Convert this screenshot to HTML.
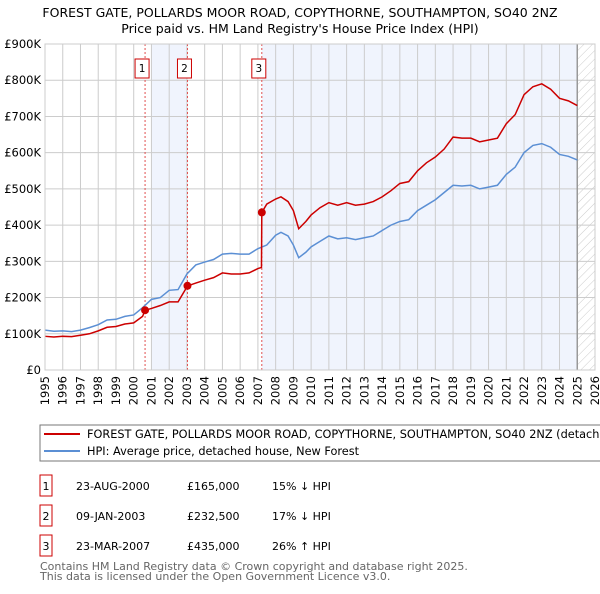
<!DOCTYPE html>
<html><head><meta charset="utf-8"><style>
body{margin:0;background:#fff;width:600px;height:590px;overflow:hidden;font-family:"DejaVu Sans","Liberation Sans",sans-serif}
text{font-family:"DejaVu Sans","Liberation Sans",sans-serif}
</style></head><body>
<svg id="c" width="600" height="590" xmlns="http://www.w3.org/2000/svg">
<defs><pattern id="hatch" width="6" height="6" patternUnits="userSpaceOnUse" patternTransform="rotate(45)"><line x1="0" y1="0" x2="0" y2="6" stroke="#ccc" stroke-width="1"/></pattern></defs>
<text x="300" y="17" text-anchor="middle" font-size="12.5" fill="#000">FOREST GATE, POLLARDS MOOR ROAD, COPYTHORNE, SOUTHAMPTON, SO40 2NZ</text>
<text x="300" y="33" text-anchor="middle" font-size="12.5" fill="#000">Price paid vs. HM Land Registry's House Price Index (HPI)</text>
<g id="bg"></g><g id="grid"></g><g id="series"></g><g id="axes"></g>
<rect x="40" y="425" width="570" height="36" fill="#fff" stroke="#777"/>
<line x1="44" y1="434" x2="80" y2="434" stroke="#cc0000" stroke-width="2"/>
<text x="87" y="438" font-size="11.3">FOREST GATE, POLLARDS MOOR ROAD, COPYTHORNE, SOUTHAMPTON, SO40 2NZ (detached house)</text>
<line x1="44" y1="451" x2="80" y2="451" stroke="#5b8fd4" stroke-width="2"/>
<text x="87" y="455" font-size="11.3">HPI: Average price, detached house, New Forest</text>
<g id="table" font-size="11"></g>
<text x="40" y="570" font-size="11" fill="#666">Contains HM Land Registry data © Crown copyright and database right 2025.</text>
<text x="40" y="580" font-size="11" fill="#666">This data is licensed under the Open Government Licence v3.0.</text>
</svg>
<script>
const hpiYears=[1995,1995.5,1996,1996.5,1997,1997.5,1998,1998.5,1999,1999.5,2000,2000.5,2001,2001.5,2002,2002.5,2003,2003.5,2004,2004.5,2005,2005.5,2006,2006.5,2007,2007.5,2008,2008.3,2008.7,2009,2009.3,2009.7,2010,2010.5,2011,2011.5,2012,2012.5,2013,2013.5,2014,2014.5,2015,2015.5,2016,2016.5,2017,2017.5,2018,2018.5,2019,2019.5,2020,2020.5,2021,2021.5,2022,2022.5,2023,2023.5,2024,2024.5,2025];
const hpiValues=[110,107,108,106,110,117,125,138,140,148,152,172,195,200,220,222,265,290,298,305,320,322,320,320,335,345,372,380,370,345,310,325,340,355,370,362,365,360,365,370,385,400,410,415,440,455,470,490,510,508,510,500,505,510,540,560,600,620,625,615,595,590,580];
const propYears=[1995,1995.5,1996,1996.5,1997,1997.5,1998,1998.5,1999,1999.5,2000,2000.5,2000.64,2001,2001.5,2002,2002.5,2003.03,2003.5,2004,2004.5,2005,2005.5,2006,2006.5,2007,2007.2,2007.22,2007.5,2008,2008.3,2008.7,2009,2009.3,2009.7,2010,2010.5,2011,2011.5,2012,2012.5,2013,2013.5,2014,2014.5,2015,2015.5,2016,2016.5,2017,2017.5,2018,2018.5,2019,2019.5,2020,2020.5,2021,2021.5,2022,2022.5,2023,2023.5,2024,2024.5,2025];
const propValues=[93,91,93,92,96,100,108,118,120,127,130,148,165,170,178,188,188,232,240,248,255,268,265,265,268,280,283,435,458,472,478,465,440,390,410,428,448,462,455,462,455,458,465,478,495,515,520,550,572,588,610,643,640,640,630,635,640,680,705,760,782,790,775,750,743,730];
const saleYears=[2000.64,2003.03,2007.22];
const saleValues=[165,232.5,435];
const saleLabels=["1","2","3"];
const saleDates=["23-AUG-2000","09-JAN-2003","23-MAR-2007"];
const salePrices=["£165,000","£232,500","£435,000"];
const saleDiffs=["15% ↓ HPI","17% ↓ HPI","26% ↑ HPI"];
const yTicks=[0,100,200,300,400,500,600,700,800,900];
const yTickLabels=["£0","£100K","£200K","£300K","£400K","£500K","£600K","£700K","£800K","£900K"];
const xTicks=[1995,1996,1997,1998,1999,2000,2001,2002,2003,2004,2005,2006,2007,2008,2009,2010,2011,2012,2013,2014,2015,2016,2017,2018,2019,2020,2021,2022,2023,2024,2025,2026];
const shadeBands=[[2001.0,2003.03],[2007.22,2025.0]];
const dataEnd=2025.0;

const X0=45,X1=595,Y0=370,Y1=44;
const xs=y=>X0+(y-1995)/(2026-1995)*(X1-X0);
const ys=v=>Y0-v/900*(Y0-Y1);
const NS="http://www.w3.org/2000/svg";
function mk(tag,attrs,parent){const e=document.createElementNS(NS,tag);for(const k in attrs)e.setAttribute(k,attrs[k]);parent.appendChild(e);return e;}
const bg=document.getElementById('bg'),grid=document.getElementById('grid'),ser=document.getElementById('series'),ax=document.getElementById('axes'),tb=document.getElementById('table');
shadeBands.forEach(b=>{const r=mk('rect',{x:xs(b[0]),y:Y1,width:xs(b[1])-xs(b[0]),height:Y0-Y1,fill:'#f0f4fd'},bg);

});
const h=mk('rect',{x:xs(dataEnd),y:Y1,width:X1-xs(dataEnd),height:Y0-Y1,fill:'url(#hatch)'},bg);


yTicks.forEach((t,i)=>{const l=mk('line',{x1:X0,x2:X1,y1:ys(t),y2:ys(t),stroke:'#ccc'},grid);


const tx=mk('text',{x:41,y:ys(t)+4,'text-anchor':'end','font-size':'11.5'},ax);tx.textContent=yTickLabels[i];

});
xTicks.forEach(t=>{const l=mk('line',{x1:xs(t),x2:xs(t),y1:Y1,y2:Y0,stroke:'#ccc'},grid);


const tx=mk('text',{x:0,y:0,'text-anchor':'end','font-size':'11.5',transform:`translate(${xs(t)+4},${Y0+6}) rotate(-90)`},ax);tx.textContent=t;

});
const el=mk('line',{x1:xs(dataEnd),x2:xs(dataEnd),y1:Y1,y2:Y0,stroke:'#999','stroke-width':1.5},grid);


saleYears.forEach((y,i)=>{const l=mk('line',{x1:xs(y),x2:xs(y),y1:Y1,y2:Y0,stroke:'#e05050','stroke-dasharray':'2,2'},grid);


const r=mk('rect',{x:xs(y)-10,y:59,width:14,height:19,fill:'#fff',stroke:'#cc0000'},ax);


const t=mk('text',{x:xs(y)-3,y:72,'text-anchor':'middle','font-size':'10.5'},ax);t.textContent=saleLabels[i];

});
const hp=mk('polyline',{points:hpiYears.map((y,i)=>xs(y)+','+ys(hpiValues[i])).join(' '),fill:'none',stroke:'#5b8fd4','stroke-width':1.5},ser);


const pp=mk('polyline',{points:propYears.map((y,i)=>xs(y)+','+ys(propValues[i])).join(' '),fill:'none',stroke:'#cc0000','stroke-width':1.5},ser);


saleYears.forEach((y,i)=>{const c=mk('circle',{cx:xs(y),cy:ys(saleValues[i]),r:4,fill:'#cc0000'},ser);

});
const bx=mk('rect',{x:X0,y:Y1,width:X1-X0,height:Y0-Y1,fill:'none',stroke:'#ccc'},ax);


saleLabels.forEach((s,i)=>{const y=475+i*30;
const r=mk('rect',{x:40,y:y,width:12,height:21,fill:'#fff',stroke:'#cc0000'},tb);


const vals=[[46,s,'middle'],[76,saleDates[i],'start'],[187,salePrices[i],'start'],[272,saleDiffs[i],'start']];
vals.forEach(v=>{const t=mk('text',{x:v[0],y:y+15,'text-anchor':v[2]},tb);t.textContent=v[1];

});});
</script>
</body></html>
